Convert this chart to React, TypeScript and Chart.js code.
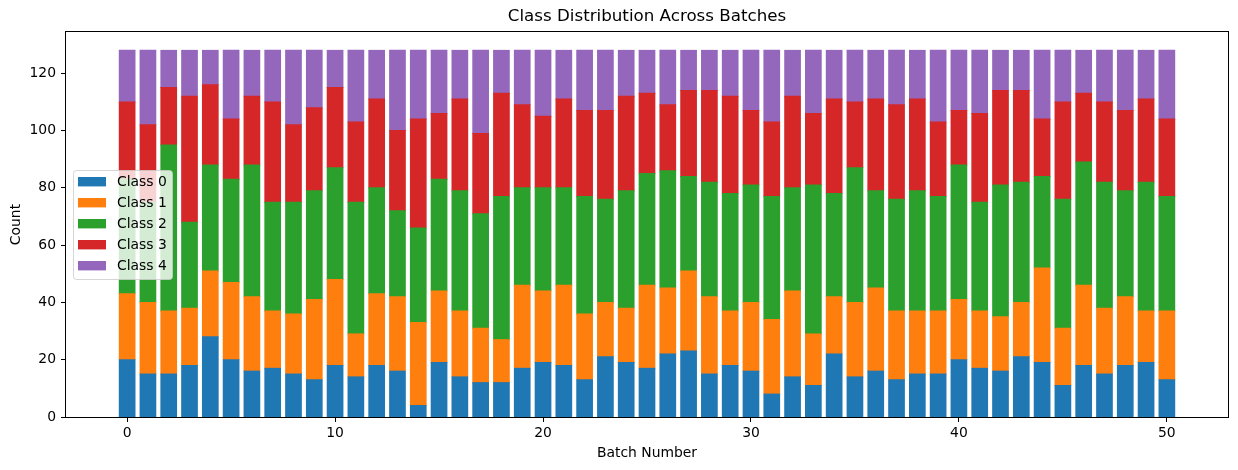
import { useEffect, useRef } from "react";
import { Chart, registerables } from "chart.js";

Chart.register(...registerables);

const batches = [0, 1, 2, 3, 4, 5, 6, 7, 8, 9, 10, 11, 12, 13, 14, 15, 16, 17, 18, 19, 20, 21, 22, 23, 24, 25, 26, 27, 28, 29, 30, 31, 32, 33, 34, 35, 36, 37, 38, 39, 40, 41, 42, 43, 44, 45, 46, 47, 48, 49, 50];

const class0 = [20, 15, 15, 18, 28, 20, 16, 17, 15, 13, 18, 14, 18, 16, 4, 19, 14, 12, 12, 17, 19, 18, 13, 21, 19, 17, 22, 23, 15, 18, 16, 8, 14, 11, 22, 14, 16, 13, 15, 15, 20, 17, 16, 21, 19, 11, 18, 15, 18, 19, 13];
const class1 = [23, 25, 22, 20, 23, 27, 26, 20, 21, 28, 30, 15, 25, 26, 29, 25, 23, 19, 15, 29, 25, 28, 23, 19, 19, 29, 23, 28, 27, 19, 24, 26, 30, 18, 20, 26, 29, 24, 22, 22, 21, 20, 19, 19, 33, 20, 28, 23, 24, 18, 24];
const class2 = [40, 35, 58, 30, 37, 36, 46, 38, 39, 38, 39, 46, 37, 30, 33, 39, 42, 40, 50, 34, 36, 34, 41, 36, 41, 39, 41, 33, 40, 41, 41, 43, 36, 52, 36, 47, 34, 39, 42, 40, 47, 38, 46, 42, 32, 45, 43, 44, 37, 45, 40];
const class3 = [27, 27, 20, 44, 28, 21, 24, 35, 27, 29, 28, 28, 31, 28, 38, 23, 32, 28, 36, 29, 25, 31, 30, 31, 33, 28, 23, 30, 32, 34, 26, 26, 32, 25, 33, 23, 32, 33, 32, 26, 19, 31, 33, 32, 20, 34, 24, 28, 28, 29, 27];
const class4 = [18, 26, 13, 16, 12, 24, 16, 18, 26, 20, 13, 25, 17, 28, 24, 22, 17, 29, 15, 19, 23, 17, 21, 21, 16, 15, 19, 14, 14, 16, 21, 25, 16, 22, 17, 18, 17, 19, 17, 25, 21, 22, 14, 14, 24, 18, 15, 18, 21, 17, 24];

const seriesLabels = ["Class 0", "Class 1", "Class 2", "Class 3", "Class 4"];
const seriesValues = [class0, class1, class2, class3, class4];
const seriesColors = ["#1f77b4", "#ff7f0e", "#2ca02c", "#d62728", "#9467bd"];

const xTicks = [0, 10, 20, 30, 40, 50];
const yTicks = [0, 20, 40, 60, 80, 100, 120];

const FONT = "DejaVu Sans";

const framePlugin = {
  id: "frame",
  afterDraw(chart: any) {
    const { ctx, chartArea } = chart;
    ctx.save();
    ctx.strokeStyle = "#000";
    ctx.lineWidth = 1;
    ctx.strokeRect(
      Math.round(chartArea.left) - 0.5,
      Math.round(chartArea.top) - 0.5,
      Math.round(chartArea.right - chartArea.left) + 1,
      Math.round(chartArea.bottom - chartArea.top) + 1
    );
    ctx.restore();
  },
};

const legendPlugin = {
  id: "innerLegend",
  afterDraw(chart: any) {
    const { ctx, chartArea } = chart;
    const datasets = chart.data.datasets;
    const rowH = 21;
    const boxW = 99;
    const boxH = 109;
    const x0 = Math.round(chartArea.left + 7);
    const y0 = Math.round((chartArea.top + chartArea.bottom) / 2 - boxH / 2);
    ctx.save();
    ctx.fillStyle = "rgba(255,255,255,0.8)";
    ctx.strokeStyle = "rgba(204,204,204,0.8)";
    ctx.lineWidth = 1;
    ctx.beginPath();
    (ctx as any).roundRect(x0 + 0.5, y0 + 0.5, boxW, boxH, 3);
    ctx.fill();
    ctx.stroke();
    ctx.font = `13.9px "${FONT}"`;
    ctx.textBaseline = "middle";
    ctx.textAlign = "left";
    datasets.forEach((ds: any, i: number) => {
      const cy = y0 + 11.7 + i * rowH;
      ctx.fillStyle = ds.backgroundColor;
      ctx.fillRect(x0 + 5, cy - 4.7, 28, 9.4);
      ctx.fillStyle = "#000";
      ctx.fillText(ds.label, x0 + 44, cy + 0.5);
    });
    ctx.restore();
  },
};

export default function App() {
  const ref = useRef<HTMLCanvasElement>(null);
  useEffect(() => {
    document.body.style.margin = "0";
    const chart = new Chart(ref.current as HTMLCanvasElement, {
      type: "bar",
      data: {
        datasets: seriesLabels.map((label, s) => ({
          label,
          data: batches.map((b, i) => ({ x: b, y: seriesValues[s][i] })),
          backgroundColor: seriesColors[s],
          borderWidth: 0,
          inflateAmount: 0.5,
          barPercentage: 0.755,
          categoryPercentage: 1,
        })),
      },
      options: {
        responsive: false,
        animation: false,
        devicePixelRatio: 1,
        layout: { padding: { left: 0, right: 10, top: 0, bottom: 0 } },
        plugins: {
          legend: { display: false },
          tooltip: { enabled: false },
          title: {
            display: true,
            text: "Class Distribution Across Batches",
            color: "#000",
            fullSize: false,
            font: { family: FONT, size: 16.7, weight: "normal" },
            padding: { top: 7, bottom: 5 },
          },
        },
        scales: {
          x: {
            type: "linear",
            min: -2.94,
            max: 52.94,
            stacked: true,
            offset: false,
            grid: {
              display: true,
              offset: false,
              drawOnChartArea: false,
              drawTicks: true,
              tickLength: 5,
              color: "#000",
              lineWidth: 1,
            },
            border: { display: false },
            ticks: {
              color: "#000",
              font: { family: FONT, size: 13.9 },
              padding: 3,
              maxRotation: 0,
              autoSkip: false,
            },
            title: {
              display: true,
              text: "Batch Number",
              color: "#000",
              font: { family: FONT, size: 13.9 },
              padding: { top: 0, bottom: 8.6 },
            },
            afterBuildTicks: (scale: any) => {
              scale.ticks = xTicks.map((v) => ({ value: v }));
            },
            afterFit: (scale: any) => {
              scale.height = 53;
            },
          },
          y: {
            type: "linear",
            min: 0,
            max: 134.4,
            stacked: true,
            grid: {
              display: true,
              offset: false,
              drawOnChartArea: false,
              drawTicks: true,
              tickLength: 5,
              color: "#000",
              lineWidth: 1,
            },
            border: { display: false },
            ticks: {
              color: "#000",
              font: { family: FONT, size: 13.9 },
              padding: 5,
            },
            title: {
              display: true,
              text: "Count",
              color: "#000",
              font: { family: FONT, size: 13.9 },
              padding: { top: 8, bottom: 0 },
            },
            afterBuildTicks: (scale: any) => {
              scale.ticks = yTicks.map((v) => ({ value: v }));
            },
            afterFit: (scale: any) => {
              scale.width = 66;
            },
          },
        },
      } as any,
      plugins: [framePlugin, legendPlugin],
    });
    return () => chart.destroy();
  }, []);
  return (
    <div style={{ width: 1238, height: 470 }}>
      <canvas ref={ref} width={1238} height={470} style={{ display: "block" }} />
    </div>
  );
}
